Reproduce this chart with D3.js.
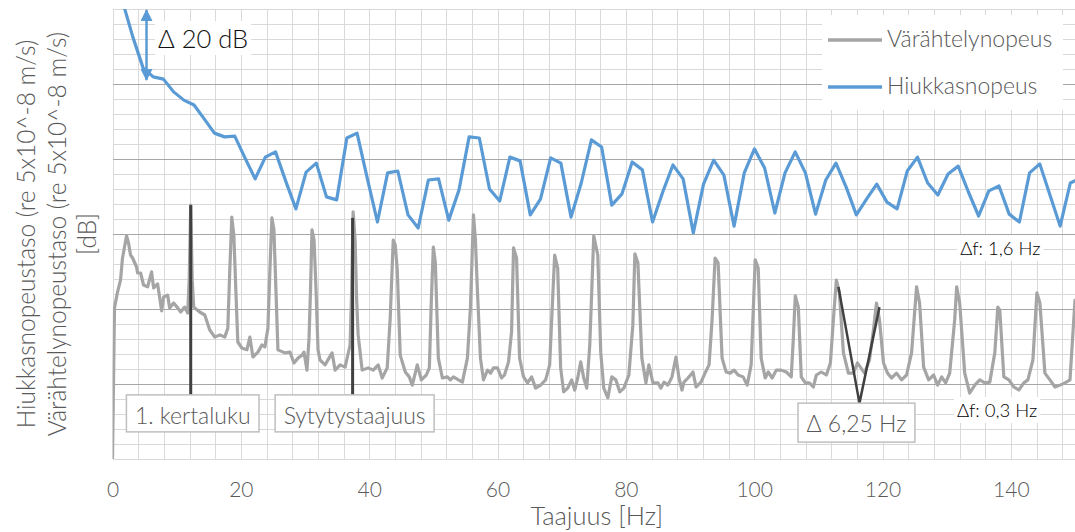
<!DOCTYPE html>
<html><head><meta charset="utf-8">
<script src="https://cdn.jsdelivr.net/npm/d3@7"></script>
<style>
html,body{margin:0;padding:0;background:#fff;}
svg{display:block;font-family:Lato,"Open Sans",sans-serif;}
</style></head><body>
<svg id="chart" width="1075" height="532"></svg>
<script>
// ---------------- data ----------------
const seriesNames = ["Värähtelynopeus", "Hiukkasnopeus"];
const xTicks = [0, 20, 40, 60, 80, 100, 120, 140];
const xTitle = "Taajuus [Hz]";
const yTitleLines = ["Hiukkasnopeustaso (re 5x10^-8 m/s)", "Värähtelynopeustaso (re 5x10^-8 m/s)", "[dB]"];

// Hiukkasnopeus: spectrum bins, spacing ~1.6 Hz
const blueDf = 1.588;
const blueLevels = [
  133.1,121.9,112.5,104.3,101.9,101.3,97.9,95.7,94.4,90.7,
  86.9,85.9,86.1,80.3,74.7,80.5,81.9,74.1,66.7,76.5,
  78.9,69.9,69.1,85.6,86.9,74.9,63.2,76.3,76.8,65.1,
  61.6,74.4,74.7,63.7,71.7,85.9,85.6,72.0,68.8,80.5,
  79.5,65.1,69.3,80.3,78.9,64.5,73.6,85.1,83.2,67.7,
  70.7,79.2,77.1,63.2,71.2,78.4,74.7,60.3,73.3,79.7,
  75.7,62.1,76.3,82.7,77.6,65.6,76.3,81.9,76.3,65.3,
  74.4,78.9,72.5,65.1,69.3,73.3,68.5,66.7,76.8,80.5,
  73.6,70.4,76.0,78.1,71.2,64.8,71.5,72.8,65.3,63.2,
  76.3,78.7,70.4,62.1,73.6,74.9
];

// Värähtelynopeus: frequency (Hz) and level (dB)
const greyFreq = [
  0,0.31,0.78,1.25,1.56,2.19,2.5,2.81,3.13,3.75,
  3.91,4.38,4.84,5.47,6.09,6.41,7.03,7.66,7.97,8.59,
  8.91,9.53,10.16,10.63,11.25,11.72,11.95,12.19,12.42,12.66,
  13.59,14.38,15.16,15.94,16.72,17.5,17.97,18.28,18.59,18.91,
  19.22,19.53,20.16,20.94,21.41,21.88,22.66,23.28,23.75,24.22,
  24.53,24.84,25.16,25.47,25.78,26.88,27.66,28.28,28.91,29.53,
  29.84,30.31,30.63,30.86,31.09,31.41,31.72,32.03,32.34,33.13,
  34.22,34.69,35.47,36.25,37.03,37.27,37.5,37.81,38.05,38.28,
  38.91,39.84,40.63,41.41,42.03,42.81,43.28,43.75,44.06,44.38,
  44.84,45.63,46.25,46.72,47.5,48.13,48.91,49.38,49.69,50.0,
  50.31,50.78,51.41,52.19,52.66,53.13,53.91,54.53,55.31,55.78,
  56.25,56.56,56.88,57.34,57.81,58.44,58.91,59.38,60.0,60.63,
  61.09,61.72,62.19,62.5,62.97,63.44,64.06,64.69,65.31,65.94,
  66.72,67.5,68.13,68.44,68.91,69.38,69.84,70.31,70.94,71.56,
  72.03,72.5,72.97,73.44,73.91,74.38,75.0,75.63,76.09,76.56,
  77.19,77.81,78.44,79.06,79.69,80.47,81.09,81.41,81.88,82.5,
  83.13,83.59,84.22,85.0,85.47,85.94,86.56,87.19,87.81,88.28,
  88.75,89.06,89.69,90.47,90.94,91.72,92.34,92.97,93.44,93.91,
  94.38,95.0,95.63,96.25,96.88,97.5,98.28,98.91,99.53,100.16,
  100.63,101.09,101.72,102.19,102.81,103.44,104.22,105.0,105.78,106.09,
  106.41,106.88,107.34,107.97,108.59,109.22,109.69,110.47,111.25,111.88,
  112.34,112.81,113.28,113.91,114.69,115.47,116.09,116.56,117.19,117.97,
  118.59,119.06,119.53,120.16,120.78,121.41,122.19,122.97,123.75,124.53,
  125.31,125.78,126.41,127.19,127.97,128.59,129.22,129.84,130.47,131.25,
  131.56,132.03,132.81,133.59,134.38,135.16,135.94,136.72,137.5,137.97,
  138.28,138.91,139.69,140.47,141.25,142.03,142.66,143.44,144.06,144.53,
  145.31,146.09,146.88,147.66,148.44,149.22,150.0
];
const greyLevels = [
  0,40.3,44.5,47.7,53.6,59.5,57.6,54.4,53.6,51.2,
  49.6,49.6,46.4,45.9,49.9,45.6,46.7,39.5,43.2,43.7,
  40.3,41.6,40.3,39.2,40.5,38.9,47.7,67.7,47.7,40.5,
  39.2,38.4,34.4,32.5,33.1,32.5,34.9,50.4,64.5,59.7,
  45.1,31.2,29.6,29.1,32.5,27.2,28.5,30.4,29.9,34.9,
  50.4,64.3,61.1,45.1,29.1,28.3,28.5,25.6,26.9,27.7,
  28.5,23.7,32.3,45.1,61.1,58.4,45.1,29.1,26.4,25.1,
  28.3,23.7,25.1,24.5,30.4,45.1,65.9,58.4,42.4,33.1,
  23.7,24.3,23.7,25.1,21.6,24.3,37.6,58.4,57.1,50.4,
  27.7,23.2,21.9,19.7,25.1,21.1,22.4,24.3,42.4,56.5,
  52.5,26.9,21.6,21.9,21.1,21.9,21.1,20.5,26.9,40.3,
  65.1,58.4,44.5,26.9,21.1,23.7,22.9,24.3,24.3,21.6,
  22.4,25.9,33.9,56.3,53.6,26.9,21.9,20.3,21.9,18.9,
  19.7,21.1,25.1,37.1,54.4,50.9,24.3,17.9,18.9,21.1,
  18.4,21.6,25.9,21.6,18.9,30.4,59.5,54.4,28.5,18.9,
  16.3,21.9,21.1,17.9,18.9,22.4,35.7,54.7,52.3,26.9,
  20.3,25.1,20.3,20.3,18.9,20.5,19.7,21.9,27.2,21.6,
  18.4,20.5,21.6,23.2,19.2,20.5,22.9,25.1,37.1,53.6,
  52.3,26.9,23.2,22.9,23.7,22.4,21.9,19.7,25.1,53.1,
  50.9,26.9,21.6,23.2,21.6,23.7,23.7,23.2,21.9,31.7,
  43.5,40.5,21.9,20.3,20.3,19.2,22.4,23.2,22.4,25.6,
  37.1,47.7,44.3,28.3,22.9,22.9,25.6,24.5,22.9,26.4,
  34.4,41.6,37.1,25.6,22.9,21.6,22.9,21.1,22.4,28.3,
  45.9,41.6,24.5,21.1,22.4,19.7,21.9,20.3,22.9,37.1,
  45.9,41.6,22.9,17.6,19.7,21.1,20.3,20.5,28.3,40.5,
  39.7,21.9,21.1,19.2,18.4,20.3,21.1,26.4,44.3,41.6,
  22.9,21.1,19.2,19.7,20.3,21.1,42.4
];

// annotations (data units: Hz, dB)
const markerLabels = ["1. kertaluku", "Sytytystaajuus"];
const markerFreq = [12.19, 37.42];
const markerTop = [67.7, 64.3];
const markerBottom = [17.1, 17.1];
const spacingFreq = [113.13, 116.41, 119.53];
const spacingLevel = [45.9, 14.9, 40.5];
const spacingLabel = "Δ 6,25 Hz";
const resLabels = ["Δf: 1,6 Hz", "Δf: 0,3 Hz"];
const resFreq = [132.1, 131.6];
const resLevel = [54.4, 11.2];
const arrowFreq = 5.3;
const arrowLevels = [119.7, 101.1];
const arrowLabel = "Δ 20 dB";

// ---------------- drawing ----------------
const svg = d3.select("#chart");
const L = 112.5, R = 1075, T = 9, B = 459;
const x = d3.scaleLinear().domain([0, 150]).range([L, R]);
const y = d3.scaleLinear().domain([0, 120]).range([B, T]);
const BLUE = "#5b9bd5", GREY = "#a5a5a5", DARK = "#404040", TXT = "#595959";

svg.append("defs").append("clipPath").attr("id", "plotclip")
  .append("rect").attr("x", L).attr("y", T).attr("width", R - L).attr("height", B - T);
svg.select("defs").append("marker").attr("id", "ah")
  .attr("viewBox", "0 0 10 10").attr("refX", 9).attr("refY", 5)
  .attr("markerWidth", 14).attr("markerHeight", 12)
  .attr("markerUnits", "userSpaceOnUse").attr("orient", "auto-start-reverse")
  .append("path").attr("d", "M0,0L10,5L0,10Z").attr("fill", BLUE);

// grid
const grid = svg.append("g").attr("shape-rendering", "crispEdges");
grid.selectAll("line.v").data(d3.range(0, 150, 4)).join("line")
  .attr("x1", d => Math.round(x(d)) + 0.5).attr("x2", d => Math.round(x(d)) + 0.5)
  .attr("y1", T).attr("y2", B).attr("stroke", "#d9d9d9").attr("stroke-width", 1.5);
const hvals = d3.range(0, 121, 4);
const majors = [20, 40, 60, 80, 100];
grid.selectAll("line.h").data(hvals.filter(d => !majors.includes(d))).join("line")
  .attr("x1", L).attr("x2", R)
  .attr("y1", d => Math.round(y(d)) + 0.5).attr("y2", d => Math.round(y(d)) + 0.5)
  .attr("stroke", "#d9d9d9").attr("stroke-width", 1.5);
grid.selectAll("line.hm").data(majors).join("line")
  .attr("x1", L).attr("x2", R)
  .attr("y1", d => Math.round(y(d)) + 0.5).attr("y2", d => Math.round(y(d)) + 0.5)
  .attr("stroke", "#a6a6a6").attr("stroke-width", 1.5);

// x axis
const xAxis = svg.append("g").attr("transform", `translate(0,${B})`)
  .call(d3.axisBottom(x).tickValues(xTicks).tickSize(0).tickPadding(23));
xAxis.select(".domain").remove();
xAxis.selectAll("text").attr("font-size", 21).attr("fill", TXT)
  .attr("font-family", "Lato, 'Open Sans', sans-serif").attr("font-weight", 300);

svg.append("text").attr("x", (L + R) / 2 + 3).attr("y", 525).attr("text-anchor", "middle")
  .attr("font-size", 25.5).attr("font-weight", 300).attr("fill", TXT).text(xTitle);

// y title
const yBase = [35, 66, 96];
yTitleLines.forEach((t, i) => {
  svg.append("text").attr("transform", `translate(${yBase[i]},${(T + B) / 2}) rotate(-90)`)
    .attr("text-anchor", "middle").attr("font-size", 24.5).attr("font-weight", 300)
    .attr("fill", TXT).text(t);
});

// series
const plot = svg.append("g").attr("clip-path", "url(#plotclip)");
const greyData = greyFreq.map((f, i) => [f, greyLevels[i]]);
const blueData = blueLevels.map((v, i) => [i * blueDf, v]);
const line = d3.line().x(d => x(d[0])).y(d => y(d[1]));
plot.append("path").datum(greyData).attr("d", line).attr("fill", "none")
  .attr("stroke", GREY).attr("stroke-width", 3.2).attr("stroke-linejoin", "round").attr("stroke-linecap", "round");
plot.append("path").datum(blueData).attr("d", line).attr("fill", "none")
  .attr("stroke", BLUE).attr("stroke-width", 3.2).attr("stroke-linejoin", "round").attr("stroke-linecap", "round");

// marker lines and boxes
markerLabels.forEach((lab, i) => {
  const xf = x(markerFreq[i]);
  svg.append("line").attr("x1", xf).attr("x2", xf)
    .attr("y1", y(markerTop[i])).attr("y2", y(markerBottom[i]))
    .attr("stroke", DARK).attr("stroke-width", 3);
  const g = svg.append("g");
  const t = g.append("text").attr("x", xf + 2).attr("y", y(markerBottom[i]) + 29)
    .attr("text-anchor", "middle").attr("font-size", 23).attr("font-weight", 300)
    .attr("fill", TXT).text(lab);
  const bb = t.node().getBBox();
  g.insert("rect", "text").attr("x", bb.x - 8.5).attr("y", y(markerBottom[i]))
    .attr("width", bb.width + 17).attr("height", 37)
    .attr("fill", "#fff").attr("stroke", "#bfbfbf").attr("stroke-width", 1.5);
});

// spacing V
const vData = spacingFreq.map((f, i) => [f, spacingLevel[i]]);
svg.append("path").datum(vData).attr("d", line).attr("fill", "none")
  .attr("stroke", DARK).attr("stroke-width", 2.5);
{
  const g = svg.append("g");
  const cx = x(spacingFreq[1]) - 3;
  const t = g.append("text").attr("x", cx).attr("y", y(spacingLevel[1]) + 29)
    .attr("text-anchor", "middle").attr("font-size", 23).attr("font-weight", 300)
    .attr("fill", TXT).text(spacingLabel);
  const bb = t.node().getBBox();
  g.insert("rect", "text").attr("x", bb.x - 8.5).attr("y", y(spacingLevel[1]))
    .attr("width", bb.width + 17).attr("height", 39)
    .attr("fill", "#fff").attr("stroke", "#bfbfbf").attr("stroke-width", 1.5);
}

// resolution labels
resLabels.forEach((lab, i) => {
  const g = svg.append("g");
  const t = g.append("text").attr("x", x(resFreq[i])).attr("y", y(resLevel[i]))
    .attr("font-size", 18.5).attr("font-weight", 300).attr("fill", "#000").text(lab);
  const bb = t.node().getBBox();
  g.insert("rect", "text").attr("x", bb.x - 3).attr("y", bb.y - 2)
    .attr("width", bb.width + 6).attr("height", bb.height + 4).attr("fill", "#fff");
});

// delta 20 dB arrow
{
  const g = svg.append("g");
  const t = g.append("text").attr("x", 158).attr("y", 48)
    .attr("font-size", 25.5).attr("font-weight", 300).attr("fill", "#111").text(arrowLabel);
  const bb = t.node().getBBox();
  g.insert("rect", "text").attr("x", bb.x - 3).attr("y", bb.y - 2)
    .attr("width", bb.width + 6).attr("height", bb.height + 4).attr("fill", "#fff");
  svg.append("line").attr("x1", x(arrowFreq)).attr("x2", x(arrowFreq))
    .attr("y1", y(arrowLevels[0])).attr("y2", y(arrowLevels[1]))
    .attr("stroke", BLUE).attr("stroke-width", 2.5)
    .attr("marker-start", "url(#ah)").attr("marker-end", "url(#ah)");
}

// legend
const lg = svg.append("g");
lg.append("rect").attr("x", 822).attr("y", 15).attr("width", 241).attr("height", 95).attr("fill", "#fff");
[GREY, BLUE].forEach((c, i) => {
  const cy = 40 + i * 47;
  lg.append("line").attr("x1", 828).attr("x2", 882).attr("y1", cy).attr("y2", cy)
    .attr("stroke", c).attr("stroke-width", 3.5);
  lg.append("text").attr("x", 887).attr("y", cy + 7).attr("font-size", 23).attr("font-weight", 300)
    .attr("fill", TXT).text(seriesNames[i]);
});
</script>
</body></html>
